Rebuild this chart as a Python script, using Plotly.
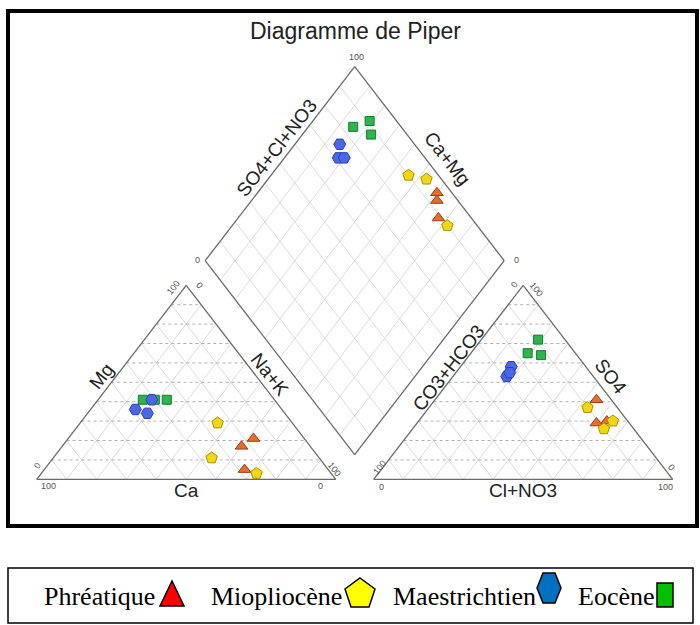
import math
import plotly.graph_objects as go

# ---------------- data (percentages, meq) ----------------
groups = ["Phréatique", "Miopliocène", "Maestrichtien", "Eocène"]

phr_ca = [23, 17, 28]
phr_mg = [17, 21, 5]
phr_nak = [60, 62, 67]
phr_hco3 = [5, 7, 11]
phr_so4 = [41, 30, 29]
phr_cl = [54, 63, 60]

mio_ca = [25, 36, 25]
mio_mg = [29, 11, 3]
mio_nak = [46, 53, 72]
mio_hco3 = [10, 5, 10]
mio_so4 = [37, 30, 26]
mio_cl = [53, 65, 64]

mae_ca = [41, 49, 46]
mae_mg = [41, 36, 34]
mae_nak = [18, 15, 20]
mae_hco3 = [29, 25, 27]
mae_so4 = [53, 58, 55]
mae_cl = [18, 17, 18]

eoc_ca = [44, 40, 36]
eoc_mg = [41, 41, 41]
eoc_nak = [15, 19, 23]
eoc_hco3 = [16, 9, 12]
eoc_so4 = [65, 72, 64]
eoc_cl = [19, 19, 24]

tick_lo = "0"
tick_hi = "100"

# ---------------- geometry ----------------
H = math.sqrt(3) / 2
G = 0.127                      # gap between triangles
OX = 1 + G                     # x offset of anion triangle
BX, BY = 1 + G / 2, G * H      # diamond bottom vertex

OFF = 0
W, HT = 700, 625
X0PX, Y0PX, SX, SY = 36.7, 479.3, 299.0, 224.0


def cat_xy(ca, mg, nak):
    s = ca + mg + nak
    m, n = mg / s, nak / s
    return n + m / 2, m * H


def an_xy(hco3, so4, cl):
    s = hco3 + so4 + cl
    so, c = so4 / s, cl / s
    return OX + c + so / 2, so * H


def dia_xy(ca, mg, nak, hco3, so4, cl):
    cm = (ca + mg) / (ca + mg + nak)
    sc = (so4 + cl) / (hco3 + so4 + cl)
    return BX + 0.5 * (sc - cm), BY + H * (sc + cm)


def paper(xpx, ypx):
    return (xpx - OFF) / W, 1 - (ypx - OFF) / HT


fig = go.Figure()


def add_lines(segs, color, width, dash="solid"):
    xs, ys = [], []
    for (a, b) in segs:
        xs += [a[0], b[0], None]
        ys += [a[1], b[1], None]
    fig.add_trace(go.Scatter(x=xs, y=ys, mode="lines", hoverinfo="skip",
                             line=dict(color=color, width=width, dash=dash),
                             showlegend=False))


grid_solid, grid_dot, outline = [], [], []
for ox in (0.0, OX):
    for i in range(1, 10):
        t = i / 10
        grid_dot.append(((ox + t / 2, t * H), (ox + 1 - t / 2, t * H)))
        grid_solid.append(((ox + t, 0), (ox + t + (1 - t) / 2, (1 - t) * H)))
        grid_solid.append(((ox + 1 - t, 0), (ox + (1 - t) / 2, (1 - t) * H)))
    outline += [((ox, 0), (ox + 1, 0)), ((ox + 1, 0), (ox + 0.5, H)), ((ox + 0.5, H), (ox, 0))]

d1 = (0.5, H)
d2 = (-0.5, H)
for i in range(1, 10):
    t = i / 10
    p = (BX + t * d1[0], BY + t * d1[1])
    grid_solid.append((p, (p[0] + d2[0], p[1] + d2[1])))
    q = (BX + t * d2[0], BY + t * d2[1])
    grid_solid.append((q, (q[0] + d1[0], q[1] + d1[1])))
Bv = (BX, BY)
Lv = (BX + d2[0], BY + d2[1])
Rv = (BX + d1[0], BY + d1[1])
Tv = (BX, BY + 2 * H)
outline += [(Bv, Lv), (Lv, Tv), (Tv, Rv), (Rv, Bv)]

add_lines(grid_solid, "#d2d2d2", 0.8)
add_lines(grid_dot, "#a8a8a8", 0.9, "dot")
add_lines(outline, "#6a6a6a", 1.3)

series = [
    ("Phréatique", phr_ca, phr_mg, phr_nak, phr_hco3, phr_so4, phr_cl, "triangle-up", "#e56f2e", "#9a3d12", 11),
    ("Miopliocène", mio_ca, mio_mg, mio_nak, mio_hco3, mio_so4, mio_cl, "pentagon", "#f3d613", "#a89200", 12),
    ("Eocène", eoc_ca, eoc_mg, eoc_nak, eoc_hco3, eoc_so4, eoc_cl, "square", "#2db54b", "#16782c", 9),
    ("Maestrichtien", mae_ca, mae_mg, mae_nak, mae_hco3, mae_so4, mae_cl, "hexagon2", "#4a68e6", "#2a3fb0", 12),
]
for name, ca, mg, nak, hc, so, cl, sym, fc, lc, sz in series:
    xs, ys = [], []
    for k in range(len(ca)):
        for f, args in ((cat_xy, (ca[k], mg[k], nak[k])),
                        (an_xy, (hc[k], so[k], cl[k])),
                        (dia_xy, (ca[k], mg[k], nak[k], hc[k], so[k], cl[k]))):
            x, y = f(*args)
            xs.append(x)
            ys.append(y)
    fig.add_trace(go.Scatter(x=xs, y=ys, mode="markers", name=name, showlegend=False,
                             marker=dict(symbol=sym, size=sz, color=fc,
                                         line=dict(color=lc, width=1))))

ann = []


def txt(xpx, ypx, s, size, angle=0, color="#222", family="Liberation Sans, Arial", xanchor="center"):
    px, py = paper(xpx, ypx)
    ann.append(dict(x=px, y=py, xref="paper", yref="paper", text=s, showarrow=False,
                    textangle=angle, xanchor=xanchor, yanchor="middle",
                    font=dict(size=size, color=color, family=family)))


# title
txt(355, 31, "Diagramme de Piper", 23)
# axis titles
txt(276, 148, "SO4+Cl+NO3", 19, -52)
txt(447, 159, "Ca+Mg", 19, 52)
txt(101, 376, "Mg", 19, -52)
txt(270, 374, "Na+K", 19, 52)
txt(186, 490, "Ca", 19)
txt(448, 368, "CO3+HCO3", 19, -52)
txt(611, 376, "SO4", 19, 52)
txt(523, 490, "Cl+NO3", 19)
# tick labels
tc = "#555"
ts = 9
txt(356, 57, tick_hi, ts, color=tc)
txt(197, 260, tick_lo, ts, color=tc)
txt(516, 260, tick_lo, ts, color=tc)
txt(173, 288, tick_hi, ts, -52, tc)
txt(199, 285, tick_lo, ts, 52, tc)
txt(37, 466, tick_lo, ts, -52, tc)
txt(48, 486, tick_hi, ts, color=tc)
txt(320, 486, tick_lo, ts, color=tc)
txt(334, 469, tick_hi, ts, 52, tc)
txt(514, 285, tick_lo, ts, -52, tc)
txt(536, 289, tick_hi, ts, 52, tc)
txt(380, 467, tick_hi, ts, -52, tc)
txt(381, 487, tick_lo, ts, color=tc)
txt(665, 487, tick_hi, ts, color=tc)
txt(671, 467, tick_lo, ts, 52, tc)

# legend text
lf = "Liberation Serif, Times New Roman, serif"
lsz = 26
txt(42, 596, groups[0], lsz, color="black", family=lf, xanchor="left")
txt(209, 596, groups[1], lsz, color="black", family=lf, xanchor="left")
txt(391, 596, groups[2], lsz, color="black", family=lf, xanchor="left")
txt(576, 596, groups[3], lsz, color="black", family=lf, xanchor="left")

shapes = []


def rect(x0, y0, x1, y1, width, color="black", fill=None):
    a = paper(x0, y0)
    b = paper(x1, y1)
    shapes.append(dict(type="rect", xref="paper", yref="paper", x0=a[0], y0=a[1], x1=b[0], y1=b[1],
                       line=dict(color=color, width=width), fillcolor=fill or "rgba(0,0,0,0)"))


def poly(pts, fill):
    s = ""
    for i, (xp, yp) in enumerate(pts):
        px, py = paper(xp, yp)
        s += ("M" if i == 0 else "L") + f"{px},{py} "
    s += "Z"
    shapes.append(dict(type="path", xref="paper", yref="paper", path=s,
                       fillcolor=fill, line=dict(color="black", width=1.5)))


rect(8, 11, 697, 526, 4)
rect(8, 568, 693, 623, 1.5)
poly([(172, 581), (160, 606), (184, 606)], "#ff0000")
poly([(360, 578), (375, 589), (369, 607), (351, 607), (345, 589)], "#ffff00")
poly([(543, 573), (555, 573), (561, 588), (555, 603), (543, 603), (537, 588)], "#0070c0")
poly([(657, 583), (673, 583), (673, 607), (657, 607)], "#00c000")

fig.update_layout(
    width=W, height=HT, margin=dict(l=0, r=0, t=0, b=0),
    paper_bgcolor="white", plot_bgcolor="white", showlegend=False,
    xaxis=dict(range=[(OFF - X0PX) / SX, (W + OFF - X0PX) / SX], visible=False, fixedrange=True),
    yaxis=dict(range=[(Y0PX - HT - OFF) / SY, (Y0PX - OFF) / SY], visible=False, fixedrange=True),
    annotations=ann, shapes=shapes,
)
fig.write_html("out.html", config={"displayModeBar": False},
               post_script="document.body.style.margin='0';document.body.style.overflow='hidden';")
